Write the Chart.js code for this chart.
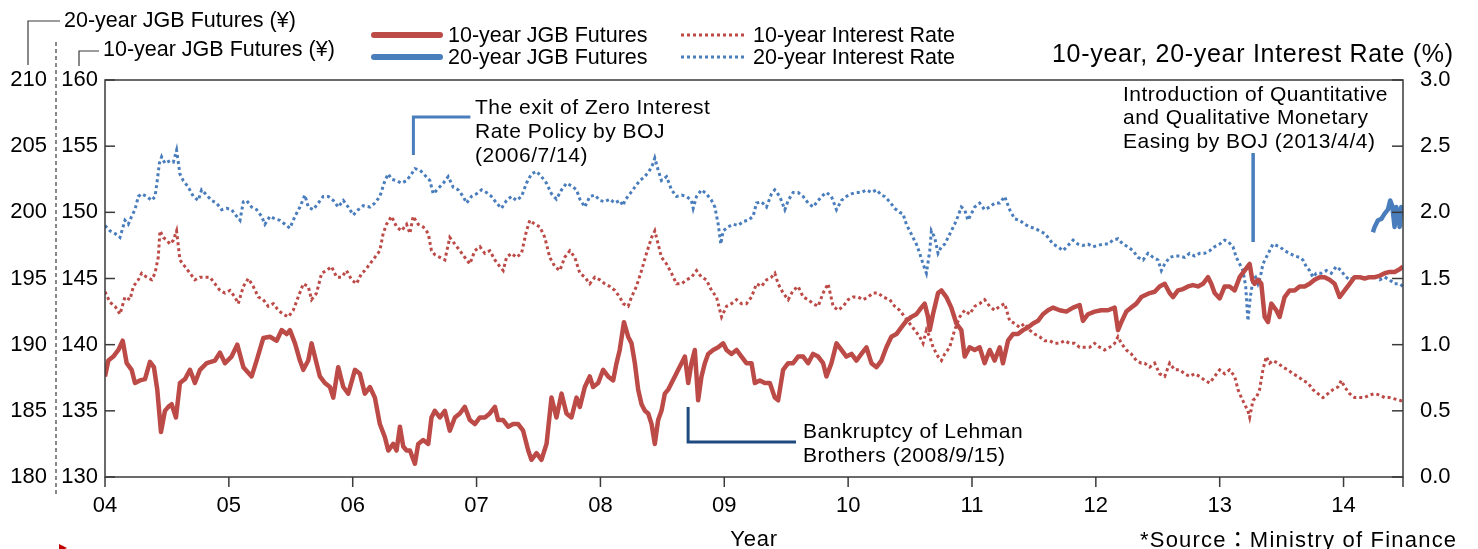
<!DOCTYPE html>
<html>
<head>
<meta charset="utf-8">
<title>JGB Futures and Interest Rates</title>
<script src="https://cdn.jsdelivr.net/npm/chart.js@4.4.0/dist/chart.umd.min.js"></script>
<style>
  html, body { margin: 0; padding: 0; background: #fff; }
  #wrap { width: 1478px; height: 549px; }
</style>
</head>
<body>
<div id="wrap"><canvas id="myChart" width="1478" height="549"></canvas></div>
<script>
const yearLabels = ['04', '05', '06', '07', '08', '09', '10', '11', '12', '13', '14'];
const seriesNames = ['10-year JGB Futures', '20-year JGB Futures', '10-year Interest Rate', '20-year Interest Rate'];
const axisNames = ['20-year JGB Futures (\u00a5)', '10-year JGB Futures (\u00a5)', '10-year, 20-year Interest Rate (%)', 'Year'];
const sourceNote = '*Source\uff1aMinistry of Finance';
const exitNote = ['The exit of Zero Interest', 'Rate Policy by BOJ', '(2006/7/14)'];
const lehmanNote = ['Bankruptcy of Lehman', 'Brothers (2008/9/15)'];
const qqeNote = ['Introduction of Quantitative', 'and Qualitative Monetary', 'Easing by BOJ (2013/4/4)'];
const noteDates = [2006.49, 2008.708, 2013.27];

// [year, yen]
const futures10 = [
  [2004.000,137.6],[2004.027,138.8],[2004.067,139.1],[2004.108,139.6],[2004.143,140.3],[2004.175,138.6],[2004.215,138.1],[2004.242,137.1],
  [2004.282,137.3],[2004.323,137.4],[2004.363,138.7],[2004.395,138.3],[2004.422,136.6],[2004.452,133.4],[2004.484,135.0],[2004.511,135.3],
  [2004.538,135.5],[2004.573,134.5],[2004.605,137.1],[2004.646,137.4],[2004.686,138.1],[2004.726,137.1],[2004.767,138.1],[2004.821,138.6],
  [2004.888,138.8],[2004.928,139.4],[2004.969,138.6],[2005.022,139.1],[2005.068,140.0],[2005.117,138.3],[2005.184,137.6],[2005.224,138.8],
  [2005.278,140.5],[2005.332,140.6],[2005.386,140.3],[2005.426,141.1],[2005.466,140.8],[2005.493,141.1],[2005.534,140.1],[2005.574,138.8],
  [2005.601,138.1],[2005.641,138.8],[2005.668,140.1],[2005.708,138.6],[2005.735,137.6],[2005.776,137.1],[2005.816,136.8],[2005.843,136.0],
  [2005.883,138.3],[2005.924,136.8],[2005.964,136.3],[2006.018,138.1],[2006.058,137.8],[2006.098,136.3],[2006.139,136.8],[2006.179,136.0],
  [2006.219,134.0],[2006.260,133.0],[2006.287,132.0],[2006.327,132.5],[2006.354,132.0],[2006.381,133.8],[2006.408,132.3],[2006.435,132.0],
  [2006.462,132.0],[2006.502,131.0],[2006.529,132.5],[2006.569,132.8],[2006.610,132.5],[2006.636,134.5],[2006.663,135.0],[2006.704,134.5],
  [2006.744,135.0],[2006.784,133.5],[2006.825,134.5],[2006.865,134.8],[2006.905,135.3],[2006.946,134.3],[2006.986,134.0],[2007.027,134.5],
  [2007.067,134.5],[2007.107,134.8],[2007.148,135.3],[2007.174,134.3],[2007.215,134.3],[2007.255,133.8],[2007.295,134.0],[2007.336,134.0],
  [2007.376,133.5],[2007.417,132.0],[2007.443,131.3],[2007.484,131.8],[2007.524,131.3],[2007.565,132.5],[2007.605,136.0],[2007.645,134.5],
  [2007.686,136.3],[2007.726,134.8],[2007.766,134.5],[2007.807,136.0],[2007.834,135.3],[2007.874,136.8],[2007.914,137.6],[2007.941,136.8],
  [2007.982,137.1],[2008.022,138.1],[2008.062,137.6],[2008.103,137.3],[2008.130,138.6],[2008.156,139.6],[2008.190,141.7],[2008.224,140.6],
  [2008.251,140.1],[2008.278,138.6],[2008.305,136.6],[2008.332,135.5],[2008.359,135.0],[2008.386,134.8],[2008.413,134.0],[2008.439,132.5],
  [2008.466,134.3],[2008.493,135.0],[2008.520,136.3],[2008.547,136.6],[2008.574,137.1],[2008.601,137.6],[2008.628,138.1],[2008.655,138.6],
  [2008.682,139.1],[2008.709,137.1],[2008.735,138.6],[2008.762,139.6],[2008.789,135.8],[2008.816,137.6],[2008.843,138.6],[2008.870,139.3],
  [2008.910,139.6],[2008.951,139.8],[2008.991,140.1],[2009.018,139.6],[2009.058,139.3],[2009.099,139.6],[2009.139,139.1],[2009.179,138.6],
  [2009.220,138.6],[2009.247,137.1],[2009.287,137.3],[2009.327,137.1],[2009.368,137.1],[2009.408,136.0],[2009.435,135.8],[2009.475,138.1],
  [2009.516,138.6],[2009.556,138.6],[2009.596,139.1],[2009.637,139.1],[2009.677,138.6],[2009.717,139.3],[2009.758,139.1],[2009.798,138.6],
  [2009.825,137.6],[2009.865,138.6],[2009.906,140.1],[2009.946,139.6],[2009.986,139.1],[2010.027,139.3],[2010.067,138.8],[2010.107,139.3],
  [2010.148,139.8],[2010.188,138.6],[2010.229,138.3],[2010.269,138.8],[2010.309,139.8],[2010.349,140.6],[2010.390,140.8],[2010.430,141.3],
  [2010.470,141.8],[2010.511,142.1],[2010.551,142.3],[2010.591,142.8],[2010.618,143.1],[2010.645,142.1],[2010.659,141.1],[2010.685,142.3],
  [2010.726,143.9],[2010.753,144.1],[2010.793,143.6],[2010.833,142.8],[2010.874,141.6],[2010.914,141.1],[2010.941,139.1],[2010.981,139.8],
  [2011.022,139.6],[2011.062,139.8],[2011.102,138.6],[2011.143,139.6],[2011.183,138.8],[2011.224,139.8],[2011.250,138.6],[2011.291,140.3],
  [2011.331,140.8],[2011.371,140.8],[2011.412,141.1],[2011.452,141.3],[2011.493,141.6],[2011.533,141.8],[2011.573,142.3],[2011.614,142.6],
  [2011.654,142.8],[2011.708,142.6],[2011.762,142.5],[2011.816,142.8],[2011.869,143.0],[2011.896,141.8],[2011.937,142.3],[2011.990,142.5],
  [2012.044,142.6],[2012.098,142.6],[2012.152,142.8],[2012.179,141.1],[2012.206,141.7],[2012.246,142.5],[2012.286,142.8],[2012.327,143.1],
  [2012.367,143.6],[2012.435,143.9],[2012.475,144.0],[2012.515,144.4],[2012.556,144.6],[2012.596,143.9],[2012.623,143.6],[2012.663,144.1],
  [2012.704,144.2],[2012.744,144.4],[2012.784,144.5],[2012.825,144.4],[2012.865,144.6],[2012.906,145.1],[2012.932,144.6],[2012.959,143.9],
  [2013.000,143.5],[2013.040,144.4],[2013.080,144.4],[2013.121,144.1],[2013.161,145.1],[2013.201,145.6],[2013.242,146.1],[2013.263,144.9],
  [2013.282,144.6],[2013.309,144.9],[2013.336,144.6],[2013.363,142.1],[2013.390,141.7],[2013.417,143.1],[2013.457,142.6],[2013.484,142.1],
  [2013.524,143.6],[2013.565,144.1],[2013.605,144.1],[2013.645,144.4],[2013.686,144.4],[2013.726,144.6],[2013.766,144.9],[2013.807,145.1],
  [2013.847,145.1],[2013.887,144.9],[2013.928,144.6],[2013.968,143.6],[2014.009,144.1],[2014.049,144.6],[2014.089,145.1],[2014.130,145.1],
  [2014.170,145.0],[2014.210,145.1],[2014.251,145.1],[2014.291,145.2],[2014.332,145.4],[2014.372,145.5],[2014.412,145.5],[2014.453,145.7],
  [2014.480,145.9]
];

const futures20 = [
  [2014.237,198.5],[2014.251,198.9],[2014.278,199.4],[2014.305,199.5],[2014.332,199.9],[2014.358,200.2],[2014.377,200.9],[2014.393,200.5],
  [2014.412,198.9],[2014.426,200.4],[2014.439,199.9],[2014.453,198.9],[2014.466,200.4],[2014.480,200.3]
];

// [year, %]
const rate10 = [
  [2004.000,1.40],[2004.040,1.32],[2004.081,1.29],[2004.121,1.23],[2004.161,1.36],[2004.202,1.34],[2004.229,1.44],[2004.269,1.49],
  [2004.296,1.54],[2004.336,1.51],[2004.377,1.49],[2004.404,1.54],[2004.430,1.66],[2004.444,1.86],[2004.471,1.81],[2004.498,1.79],
  [2004.525,1.76],[2004.552,1.79],[2004.578,1.86],[2004.605,1.64],[2004.646,1.59],[2004.686,1.54],[2004.726,1.49],[2004.767,1.51],
  [2004.807,1.51],[2004.847,1.51],[2004.888,1.46],[2004.928,1.41],[2004.969,1.39],[2005.009,1.41],[2005.049,1.36],[2005.076,1.31],
  [2005.117,1.44],[2005.157,1.50],[2005.197,1.44],[2005.238,1.36],[2005.278,1.34],[2005.318,1.29],[2005.359,1.31],[2005.399,1.26],
  [2005.439,1.23],[2005.480,1.21],[2005.520,1.26],[2005.560,1.36],[2005.601,1.46],[2005.641,1.44],[2005.668,1.34],[2005.708,1.39],
  [2005.749,1.54],[2005.789,1.56],[2005.829,1.59],[2005.870,1.51],[2005.910,1.51],[2005.950,1.56],[2005.991,1.49],[2006.031,1.46],
  [2006.072,1.54],[2006.098,1.56],[2006.139,1.61],[2006.179,1.66],[2006.219,1.71],[2006.246,1.84],[2006.273,1.91],[2006.314,1.97],
  [2006.354,1.89],[2006.394,1.86],[2006.435,1.91],[2006.462,1.84],[2006.488,1.97],[2006.529,1.91],[2006.569,1.89],[2006.610,1.84],
  [2006.636,1.71],[2006.663,1.68],[2006.704,1.66],[2006.744,1.64],[2006.784,1.81],[2006.825,1.76],[2006.865,1.71],[2006.905,1.66],
  [2006.946,1.61],[2006.986,1.71],[2007.027,1.74],[2007.067,1.69],[2007.107,1.71],[2007.148,1.64],[2007.188,1.59],[2007.215,1.56],
  [2007.242,1.66],[2007.282,1.69],[2007.322,1.66],[2007.363,1.69],[2007.403,1.86],[2007.430,1.94],[2007.470,1.91],[2007.511,1.89],
  [2007.551,1.81],[2007.591,1.66],[2007.632,1.59],[2007.672,1.56],[2007.712,1.66],[2007.753,1.71],[2007.793,1.66],[2007.834,1.54],
  [2007.874,1.51],[2007.914,1.46],[2007.955,1.51],[2007.995,1.49],[2008.035,1.46],[2008.076,1.44],[2008.116,1.41],[2008.156,1.36],
  [2008.184,1.31],[2008.224,1.29],[2008.251,1.36],[2008.291,1.44],[2008.332,1.56],[2008.372,1.69],[2008.413,1.81],[2008.439,1.86],
  [2008.466,1.76],[2008.493,1.66],[2008.534,1.61],[2008.574,1.54],[2008.614,1.46],[2008.655,1.46],[2008.695,1.49],[2008.735,1.51],
  [2008.776,1.56],[2008.816,1.51],[2008.856,1.49],[2008.897,1.41],[2008.937,1.36],[2008.978,1.21],[2009.018,1.29],[2009.058,1.31],
  [2009.099,1.34],[2009.139,1.31],[2009.179,1.31],[2009.220,1.36],[2009.260,1.46],[2009.300,1.44],[2009.341,1.49],[2009.381,1.51],
  [2009.408,1.54],[2009.435,1.46],[2009.475,1.39],[2009.516,1.34],[2009.556,1.41],[2009.596,1.44],[2009.637,1.36],[2009.677,1.34],
  [2009.717,1.31],[2009.758,1.29],[2009.798,1.39],[2009.838,1.46],[2009.879,1.29],[2009.919,1.26],[2009.960,1.29],[2010.000,1.34],
  [2010.040,1.36],[2010.081,1.36],[2010.121,1.34],[2010.161,1.36],[2010.202,1.39],[2010.242,1.39],[2010.282,1.36],[2010.336,1.34],
  [2010.376,1.29],[2010.416,1.26],[2010.457,1.21],[2010.497,1.16],[2010.538,1.11],[2010.578,1.06],[2010.605,1.01],[2010.632,1.11],
  [2010.659,1.06],[2010.686,0.98],[2010.726,0.91],[2010.753,0.88],[2010.780,0.93],[2010.820,0.98],[2010.860,1.11],[2010.901,1.21],
  [2010.941,1.26],[2010.981,1.23],[2011.022,1.29],[2011.062,1.31],[2011.102,1.34],[2011.143,1.29],[2011.183,1.26],[2011.224,1.29],
  [2011.264,1.31],[2011.304,1.18],[2011.345,1.16],[2011.385,1.13],[2011.425,1.16],[2011.466,1.11],[2011.506,1.08],[2011.546,1.06],
  [2011.587,1.03],[2011.627,1.03],[2011.667,1.01],[2011.708,1.01],[2011.748,1.03],[2011.789,1.01],[2011.829,1.01],[2011.869,0.98],
  [2011.910,0.98],[2011.950,0.98],[2011.990,1.01],[2012.031,0.98],[2012.071,0.96],[2012.111,0.98],[2012.152,1.01],[2012.179,1.06],
  [2012.206,1.01],[2012.246,0.96],[2012.286,0.93],[2012.327,0.88],[2012.367,0.86],[2012.394,0.86],[2012.435,0.83],[2012.475,0.86],
  [2012.515,0.78],[2012.556,0.76],[2012.596,0.86],[2012.636,0.81],[2012.677,0.81],[2012.717,0.78],[2012.757,0.76],[2012.798,0.78],
  [2012.838,0.76],[2012.879,0.73],[2012.919,0.71],[2012.959,0.76],[2013.000,0.81],[2013.040,0.78],[2013.080,0.81],[2013.121,0.76],
  [2013.148,0.66],[2013.175,0.60],[2013.201,0.55],[2013.228,0.50],[2013.242,0.45],[2013.269,0.58],[2013.296,0.60],[2013.322,0.66],
  [2013.349,0.81],[2013.376,0.91],[2013.403,0.86],[2013.430,0.88],[2013.470,0.86],[2013.511,0.83],[2013.551,0.81],[2013.591,0.78],
  [2013.632,0.76],[2013.672,0.73],[2013.713,0.71],[2013.753,0.66],[2013.793,0.63],[2013.834,0.60],[2013.874,0.63],[2013.914,0.66],
  [2013.955,0.68],[2013.982,0.73],[2014.009,0.68],[2014.049,0.63],[2014.089,0.60],[2014.130,0.60],[2014.170,0.60],[2014.210,0.62],
  [2014.251,0.63],[2014.291,0.62],[2014.332,0.60],[2014.372,0.60],[2014.412,0.59],[2014.453,0.58],[2014.480,0.57]
];

const rate20 = [
  [2004.000,1.90],[2004.040,1.86],[2004.081,1.84],[2004.121,1.81],[2004.161,1.94],[2004.188,1.91],[2004.215,1.97],[2004.242,2.02],
  [2004.269,2.12],[2004.296,2.14],[2004.336,2.12],[2004.377,2.09],[2004.404,2.12],[2004.422,2.24],[2004.439,2.37],[2004.457,2.42],
  [2004.484,2.37],[2004.525,2.39],[2004.552,2.38],[2004.578,2.47],[2004.605,2.29],[2004.632,2.24],[2004.673,2.19],[2004.713,2.12],
  [2004.753,2.09],[2004.780,2.17],[2004.821,2.13],[2004.861,2.09],[2004.901,2.07],[2004.942,2.02],[2004.982,2.03],[2005.022,2.02],
  [2005.063,1.97],[2005.090,1.94],[2005.117,2.08],[2005.143,2.09],[2005.184,2.04],[2005.224,2.02],[2005.264,1.97],[2005.291,1.91],
  [2005.332,1.97],[2005.372,1.95],[2005.412,1.94],[2005.453,1.91],[2005.493,1.88],[2005.534,1.97],[2005.574,2.04],[2005.614,2.13],
  [2005.641,2.04],[2005.681,2.02],[2005.722,2.07],[2005.762,2.12],[2005.803,2.12],[2005.843,2.09],[2005.883,2.04],[2005.924,2.09],
  [2005.964,2.04],[2006.004,1.98],[2006.045,2.02],[2006.085,2.05],[2006.139,2.04],[2006.179,2.07],[2006.219,2.12],[2006.260,2.24],
  [2006.287,2.29],[2006.314,2.25],[2006.354,2.24],[2006.394,2.22],[2006.435,2.24],[2006.475,2.29],[2006.502,2.33],[2006.542,2.32],
  [2006.583,2.28],[2006.623,2.24],[2006.650,2.14],[2006.690,2.18],[2006.731,2.22],[2006.771,2.27],[2006.811,2.19],[2006.852,2.17],
  [2006.892,2.12],[2006.919,2.07],[2006.959,2.12],[2007.000,2.14],[2007.040,2.17],[2007.080,2.15],[2007.121,2.12],[2007.161,2.07],
  [2007.201,2.03],[2007.242,2.09],[2007.282,2.12],[2007.322,2.09],[2007.363,2.12],[2007.403,2.22],[2007.443,2.29],[2007.484,2.31],
  [2007.524,2.27],[2007.565,2.22],[2007.605,2.14],[2007.645,2.10],[2007.686,2.17],[2007.726,2.22],[2007.766,2.20],[2007.807,2.17],
  [2007.834,2.10],[2007.874,2.04],[2007.914,2.12],[2007.955,2.13],[2007.995,2.09],[2008.035,2.08],[2008.076,2.10],[2008.116,2.07],
  [2008.156,2.09],[2008.183,2.05],[2008.197,2.09],[2008.238,2.14],[2008.278,2.19],[2008.318,2.24],[2008.359,2.27],[2008.399,2.32],
  [2008.426,2.37],[2008.439,2.41],[2008.466,2.32],[2008.493,2.24],[2008.534,2.27],[2008.574,2.17],[2008.614,2.12],[2008.655,2.13],
  [2008.695,2.12],[2008.735,2.09],[2008.749,2.03],[2008.776,2.12],[2008.816,2.17],[2008.856,2.14],[2008.897,2.09],[2008.924,2.04],
  [2008.951,1.91],[2008.972,1.76],[2008.991,1.86],[2009.031,1.89],[2009.072,1.91],[2009.112,1.90],[2009.152,1.93],[2009.193,1.94],
  [2009.233,1.97],[2009.260,2.07],[2009.300,2.08],[2009.341,2.04],[2009.381,2.14],[2009.408,2.17],[2009.448,2.12],[2009.489,2.02],
  [2009.516,2.09],[2009.556,2.15],[2009.596,2.15],[2009.637,2.12],[2009.677,2.07],[2009.717,2.04],[2009.758,2.09],[2009.798,2.13],
  [2009.825,2.15],[2009.865,2.12],[2009.906,2.02],[2009.946,2.09],[2009.986,2.12],[2010.027,2.14],[2010.067,2.15],[2010.107,2.15],
  [2010.148,2.17],[2010.188,2.15],[2010.229,2.17],[2010.269,2.13],[2010.295,2.12],[2010.336,2.08],[2010.376,2.03],[2010.416,2.00],
  [2010.443,1.99],[2010.470,1.91],[2010.497,1.86],[2010.524,1.81],[2010.551,1.76],[2010.578,1.69],[2010.605,1.61],[2010.632,1.54],
  [2010.659,1.71],[2010.672,1.86],[2010.699,1.81],[2010.726,1.69],[2010.753,1.74],[2010.780,1.76],[2010.807,1.81],[2010.833,1.86],
  [2010.860,1.91],[2010.887,1.97],[2010.914,2.04],[2010.941,2.02],[2010.968,1.94],[2010.995,1.99],[2011.022,2.04],[2011.062,2.07],
  [2011.102,2.02],[2011.143,2.04],[2011.183,2.07],[2011.224,2.07],[2011.264,2.12],[2011.304,2.02],[2011.345,1.95],[2011.385,1.94],
  [2011.425,1.91],[2011.466,1.89],[2011.506,1.88],[2011.546,1.86],[2011.587,1.84],[2011.614,1.81],[2011.654,1.76],[2011.694,1.74],
  [2011.735,1.71],[2011.775,1.75],[2011.816,1.79],[2011.856,1.76],[2011.896,1.75],[2011.937,1.76],[2011.977,1.74],[2012.017,1.75],
  [2012.058,1.76],[2012.098,1.76],[2012.138,1.79],[2012.179,1.80],[2012.219,1.76],[2012.259,1.74],[2012.300,1.71],[2012.340,1.66],
  [2012.381,1.64],[2012.421,1.69],[2012.462,1.66],[2012.502,1.64],[2012.529,1.56],[2012.556,1.61],[2012.596,1.66],[2012.636,1.67],
  [2012.677,1.67],[2012.717,1.66],[2012.757,1.69],[2012.798,1.67],[2012.838,1.69],[2012.879,1.69],[2012.919,1.71],[2012.959,1.74],
  [2013.000,1.76],[2013.040,1.79],[2013.067,1.78],[2013.107,1.74],[2013.134,1.66],[2013.161,1.61],[2013.188,1.56],[2013.210,1.44],
  [2013.228,1.18],[2013.247,1.36],[2013.269,1.49],[2013.290,1.51],[2013.309,1.46],[2013.328,1.51],[2013.349,1.61],[2013.376,1.66],
  [2013.403,1.71],[2013.430,1.76],[2013.457,1.75],[2013.484,1.74],[2013.524,1.71],[2013.565,1.69],[2013.605,1.67],[2013.645,1.66],
  [2013.672,1.64],[2013.699,1.59],[2013.726,1.56],[2013.753,1.51],[2013.780,1.54],[2013.820,1.54],[2013.861,1.56],[2013.901,1.54],
  [2013.941,1.59],[2013.982,1.56],[2014.009,1.52],[2014.049,1.49],[2014.089,1.51],[2014.130,1.51],[2014.170,1.50],[2014.210,1.51],
  [2014.251,1.51],[2014.291,1.49],[2014.332,1.51],[2014.372,1.49],[2014.412,1.46],[2014.453,1.46],[2014.480,1.44]
];

const red = '#bc4a47';
const blue = '#4a7dbb';
const navy = '#1f4a7f';
const frame = '#3a3a3a';
const family = "'Liberation Sans', Arial, 'Noto Sans CJK JP', sans-serif";

function toPoints(rows) {
    return rows.map(r => ({x: r[0], y: r[1]}));
}

function text(ctx, str, x, y, size, align, spacing) {
    ctx.font = size + 'px ' + family;
    ctx.letterSpacing = (spacing || 0) + 'px';
    ctx.textAlign = align || 'left';
    ctx.textBaseline = 'middle';
    ctx.fillStyle = '#000';
    ctx.fillText(str, x, y);
    ctx.letterSpacing = '0px';
}

function path(ctx, pts, color, width, dash, cap) {
    ctx.beginPath();
    ctx.strokeStyle = color;
    ctx.lineWidth = width;
    ctx.lineCap = cap || 'butt';
    ctx.setLineDash(dash || []);
    ctx.moveTo(pts[0][0], pts[0][1]);
    for (let i = 1; i < pts.length; i++) ctx.lineTo(pts[i][0], pts[i][1]);
    ctx.stroke();
    ctx.setLineDash([]);
}

const decor = {
    id: 'decor',
    afterDraw(chart) {
        const ctx = chart.ctx;
        const a = chart.chartArea;
        const sx = chart.scales.x, s10 = chart.scales.y10, sr = chart.scales.yRate;
        ctx.save();

        // frame and tick marks
        ctx.strokeStyle = frame;
        ctx.lineWidth = 1.5;
        ctx.strokeRect(a.left, a.top, a.right - a.left, a.bottom - a.top);
        s10.ticks.forEach(t => {
            const y = s10.getPixelForValue(t.value);
            path(ctx, [[a.left, y], [a.left + 10, y]], frame, 1.5);
        });
        sr.ticks.forEach(t => {
            const y = sr.getPixelForValue(t.value);
            path(ctx, [[a.right - 11, y], [a.right, y]], frame, 1.5);
        });
        sx.ticks.forEach(t => {
            const x = sx.getPixelForValue(t.value);
            path(ctx, [[x, a.bottom], [x, a.bottom + 10]], frame, 1.5);
        });
        path(ctx, [[a.right, a.bottom], [a.right, a.bottom + 10]], frame, 1.5);

        // left axis captions
        path(ctx, [[56, 42], [56, 495]], frame, 1.2, [4, 3]);
        path(ctx, [[28, 65], [28, 21], [60, 21]], frame, 1.2);
        path(ctx, [[79, 66], [79, 51], [99, 51]], frame, 1.2);
        text(ctx, axisNames[0], 64, 21, 21.5);
        text(ctx, axisNames[1], 103, 50, 21.5);
        text(ctx, axisNames[2], 1052, 55, 25, 'left', 0.7);
        text(ctx, axisNames[3], (a.left + a.right) / 2, 540, 22, 'center', 0.8);
        text(ctx, sourceNote, 1140, 541, 22, 'left', 1.2);

        // legend
        path(ctx, [[374, 35], [440, 35]], red, 6, null, 'round');
        path(ctx, [[374, 57], [440, 57]], blue, 6, null, 'round');
        path(ctx, [[681, 35], [745, 35]], red, 3, [3, 3]);
        path(ctx, [[681, 57], [745, 57]], blue, 3, [3, 3]);
        text(ctx, seriesNames[0], 448, 36, 21.5);
        text(ctx, seriesNames[1], 448, 58, 21.5);
        text(ctx, seriesNames[2], 753, 36, 21.5);
        text(ctx, seriesNames[3], 753, 58, 21.5);

        // event notes
        const xe = sx.getPixelForValue(noteDates[0]);
        path(ctx, [[xe, 155], [xe, 117], [xe + 57, 117]], blue, 3);
        exitNote.forEach((s, i) => text(ctx, s, 475, 108 + i * 24, 21, 'left', 0.5));

        const xl = sx.getPixelForValue(noteDates[1]);
        path(ctx, [[xl, 407], [xl, 442], [796, 442]], navy, 3);
        lehmanNote.forEach((s, i) => text(ctx, s, 803, 432 + i * 24, 21, 'left', 0.5));

        const xq = sx.getPixelForValue(noteDates[2]);
        path(ctx, [[xq, 153], [xq, 242]], blue, 3.5);
        qqeNote.forEach((s, i) => text(ctx, s, 1123, 95 + i * 23.5, 21, 'left', 0.5));

        // small red marker cut off at the bottom left
        ctx.fillStyle = '#c00000';
        ctx.beginPath();
        ctx.moveTo(59, 544); ctx.lineTo(67, 548); ctx.lineTo(59, 552); ctx.closePath();
        ctx.fill();

        ctx.restore();
    }
};

const tickFont = {family: family, size: 22};
const ctx = document.getElementById('myChart');

new Chart(ctx, {
    type: 'line',
    data: {
        datasets: [{
            label: seriesNames[0],
            data: toPoints(futures10),
            yAxisID: 'y10',
            borderColor: red,
            borderWidth: 4.5,
            borderJoinStyle: 'round',
            pointRadius: 0
        }, {
            label: seriesNames[1],
            data: toPoints(futures20),
            yAxisID: 'y20',
            borderColor: blue,
            borderWidth: 4.5,
            borderJoinStyle: 'round',
            pointRadius: 0
        }, {
            label: seriesNames[2],
            data: toPoints(rate10),
            yAxisID: 'yRate',
            borderColor: red,
            borderWidth: 3,
            borderDash: [3, 3],
            pointRadius: 0
        }, {
            label: seriesNames[3],
            data: toPoints(rate20),
            yAxisID: 'yRate',
            borderColor: blue,
            borderWidth: 3,
            borderDash: [3, 3],
            pointRadius: 0
        }]
    },
    options: {
        responsive: false,
        animation: false,
        layout: {padding: {top: 80, left: 0, right: 0, bottom: 0}},
        plugins: {legend: {display: false}, tooltip: {enabled: false}},
        scales: {
            x: {
                type: 'linear',
                min: 2004,
                max: 2014.48,
                grid: {display: false, drawTicks: false},
                border: {display: false},
                ticks: {
                    stepSize: 1,
                    includeBounds: false,
                    autoSkip: false,
                    maxRotation: 0,
                    padding: 16,
                    color: '#000',
                    font: tickFont,
                    callback: v => yearLabels[Math.round(v - 2004)] || ''
                },
                afterFit: s => { s.height = 72; }
            },
            y10: {
                position: 'left',
                weight: 1,
                min: 130,
                max: 160,
                grid: {display: false, drawTicks: false},
                border: {display: false},
                ticks: {stepSize: 5, padding: 7, color: '#000', font: tickFont},
                afterFit: s => { s.width = 49; }
            },
            y20: {
                position: 'left',
                weight: 2,
                min: 180,
                max: 210,
                grid: {display: false, drawTicks: false},
                border: {display: false},
                ticks: {stepSize: 5, padding: 9, color: '#000', font: tickFont},
                afterFit: s => { s.width = 56; }
            },
            yRate: {
                position: 'right',
                min: 0,
                max: 3,
                grid: {display: false, drawTicks: false},
                border: {display: false},
                ticks: {stepSize: 0.5, padding: 17, color: '#000', font: tickFont, callback: v => v.toFixed(1)},
                afterFit: s => { s.width = 75; }
            }
        }
    },
    plugins: [decor]
});
</script>
</body>
</html>
